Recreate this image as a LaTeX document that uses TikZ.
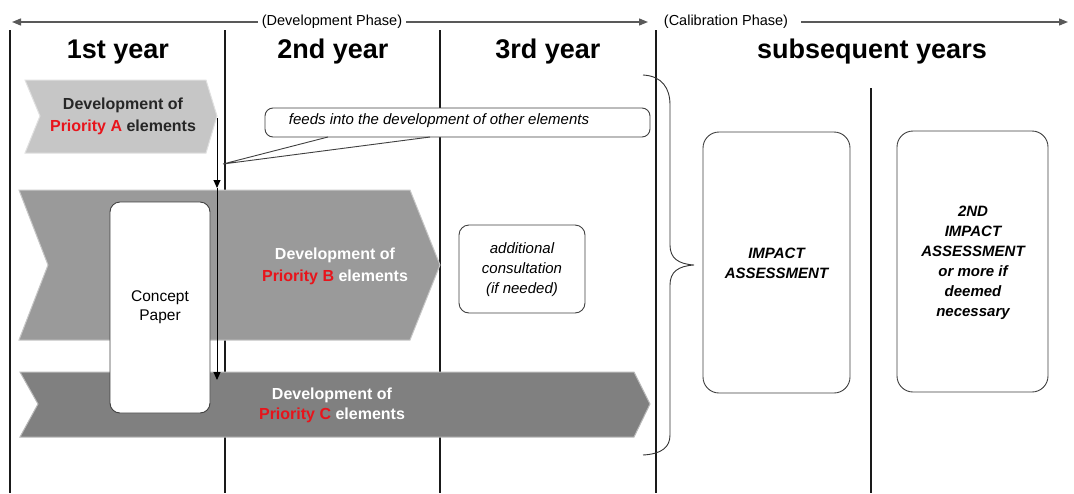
\documentclass[tikz,border=0pt]{standalone}
\usepackage{fontspec}
\setmainfont{Liberation Sans}
\usetikzlibrary{arrows.meta}
\definecolor{chevA}{HTML}{C6C6C6}
\definecolor{chevB}{HTML}{9A9A9A}
\definecolor{chevC}{HTML}{808080}
\definecolor{prio}{HTML}{E8141B}
\definecolor{rule}{HTML}{1A1A1A}
\begin{document}
\begin{tikzpicture}[x=1pt,y=-1pt,
  colline/.style={draw=rule,line width=1.8pt},
  phase/.style={draw=black!65,line width=1.3pt},
  tipstyle/.style={-{Triangle[length=9pt,width=7pt]}},
  head/.style={font=\fontsize{27}{30}\selectfont\bfseries, inner sep=0pt},
  phasetext/.style={font=\fontsize{14.5}{16}\selectfont, inner sep=4pt},
  chevtext/.style={font=\fontsize{16}{22}\selectfont\bfseries, align=center, inner sep=0pt},
  box/.style={draw=black!75, line width=0.9pt, fill=white, rounded corners=10pt},
  note/.style={font=\fontsize{15}{20}\selectfont\itshape, align=center, inner sep=0pt},
  assess/.style={font=\fontsize{15}{20}\selectfont\bfseries\itshape, align=center, inner sep=0pt},
  flow/.style={draw=black, line width=1pt, -{Triangle[length=8pt,width=7pt]}},
  ]
\useasboundingbox (0,0) rectangle (1074,493);

% year columns
\draw[colline] (10,30) -- (10,493);
\draw[colline] (225,30) -- (225,493);
\draw[colline] (440,30) -- (440,493);
\draw[colline] (656,30) -- (656,493);
\draw[colline] (871,88) -- (871,493);

% phase arrows along the top
\node[phasetext] (devtext) at (332,22) {(Development Phase)};
\node[phasetext] (caltext) at (726,22) {(Calibration Phase)};
\coordinate (devL) at (12,22);
\coordinate (devR) at (648,22);
\coordinate (calR) at (1068,22);
\draw[phase,tipstyle] (devtext.west) -- (devL);
\draw[phase,tipstyle] (devtext.east) -- (devR);
\draw[phase,tipstyle] ([xshift=9pt]caltext.east) -- (calR);

% column headings
\node[head, anchor=base] (y1) at (118,58) {1st year};
\node[head, anchor=base] (y2) at (333,58) {2nd year};
\node[head, anchor=base] (y3) at (548,58) {3rd year};
\node[head, anchor=base] (ys) at (872,58) {subsequent years};

% priority chevrons
\filldraw[fill=chevA, draw=chevA!55!white, line width=1pt]
  (25,80) -- (206,80) -- (217,116) -- (206,153) -- (25,153) -- (40,116) -- cycle;
\filldraw[fill=chevB, draw=chevB!55!white, line width=1pt]
  (19,190) -- (410,190) -- (440,265) -- (410,340) -- (19,340) -- (48,265) -- cycle;
\filldraw[fill=chevC, draw=chevC!55!white, line width=1pt]
  (20,372) -- (634,372) -- (650,404) -- (634,437) -- (20,437) -- (38,404) -- cycle;

\node[chevtext, text=black!85] (ta) at (123,116)
  {Development of\\\textcolor{prio}{Priority A} elements};
\node[chevtext, text=white] (tb) at (335,266)
  {Development of\\\textcolor{prio}{Priority B} elements};
\node[chevtext, text=white, font=\fontsize{16}{20}\selectfont\bfseries] (tc) at (332,405)
  {Development of\\\textcolor{prio}{Priority C} elements};

% concept paper
\node[box, minimum width=100pt, minimum height=211pt,
      font=\fontsize{15.5}{19}\selectfont, align=center] (concept) at (160,307.5)
  {Concept\\Paper};

% hand-over arrows from priority A
\coordinate (aStart) at (217,118);
\coordinate (bTop) at (217,188);
\coordinate (cTop) at (217,380);
\draw[flow] (aStart) -- (bTop);
\draw[flow] (bTop) -- (cTop);

% callout
\node[draw=black!75, line width=0.9pt, fill=white, rounded corners=8pt,
      minimum width=385pt, minimum height=29pt, inner sep=0pt] (callout) at (457.5,122.5) {};
\node[note, font=\fontsize{15}{18}\selectfont\itshape] (callouttext) at (439,121)
  {feeds into the development of other elements};
\coordinate (tailTip) at (223,164);
\coordinate (tailL) at (328,137);
\coordinate (tailR) at (430,137);
\fill[white] ([yshift=-1.2pt]tailL) -- (tailTip) -- ([yshift=-1.2pt]tailR) -- cycle;
\draw[black!75, line width=0.9pt] (tailL) -- (tailTip) -- (tailR);

% optional consultation
\node[box, minimum width=126pt, minimum height=88pt] (consult) at (522,269) {};
\node[note] (consulttext) at (522,270) {additional\\consultation\\(if needed)};

% calibration brace
\draw[black!80, line width=0.9pt]
  (643,75) .. controls (662,76) and (670,88) .. (670,105) -- (670,245)
  .. controls (670,258) and (678,264) .. (694,265)
  .. controls (678,266) and (670,272) .. (670,285) -- (670,435)
  .. controls (670,447) and (662,454) .. (643,455);

% impact assessments
\node[box, rounded corners=16pt, minimum width=147pt, minimum height=261pt] (impact) at (776.5,262.5) {};
\node[assess] (impacttext) at (776.5,263.5) {IMPACT\\ASSESSMENT};
\node[box, rounded corners=16pt, minimum width=151pt, minimum height=261pt] (impact2) at (972.5,261.5) {};
\node[assess] (impact2text) at (973,262.5)
  {2ND\\IMPACT\\ASSESSMENT\\or more if\\deemed\\necessary};

\end{tikzpicture}
\end{document}
